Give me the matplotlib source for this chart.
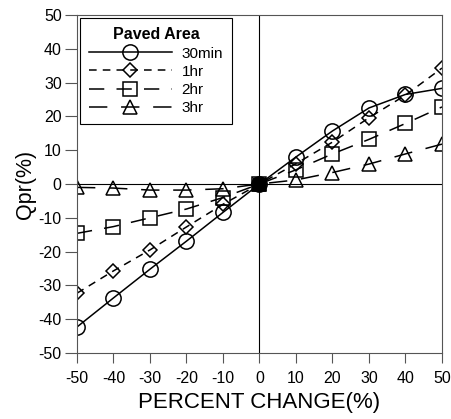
import numpy as np
import matplotlib

matplotlib.use("Agg")
import matplotlib.pyplot as plt

plt.rcParams["font.family"] = ["Liberation Sans", "DejaVu Sans"]
plt.rcParams["axes.unicode_minus"] = False

# ---- data ----
pct = [-50, -40, -30, -20, -10, 0, 10, 20, 30, 40, 50]
q_30min = [-42.3, -33.7, -25.2, -16.9, -8.4, 0, 8.0, 15.7, 22.5, 26.5, 28.3]
q_1hr = [-32.3, -25.7, -19.5, -12.7, -6.0, 0, 6.0, 12.4, 19.6, 26.3, 34.3]
q_2hr = [-14.6, -12.6, -10.0, -7.4, -4.0, 0, 4.2, 8.9, 13.2, 17.9, 22.8]
q_3hr = [-1.0, -1.2, -1.8, -1.8, -1.4, 0, 1.2, 3.4, 5.9, 8.9, 11.8]
labels = ["30min", "1hr", "2hr", "3hr"]

fig = plt.figure(figsize=(4.52, 4.19), dpi=100)
ax = fig.add_axes([77 / 452, 1 - 353 / 419, 365 / 452, 338 / 419])

styles = [
    dict(marker="o", ms=11, ls="-"),
    dict(marker="D", ms=7.5, ls=(0, (5, 4))),
    dict(marker="s", ms=10, ls=(0, (10, 8))),
    dict(marker="^", ms=10, ls=(0, (12, 9))),
]
for y, lab, st in zip([q_30min, q_1hr, q_2hr, q_3hr], labels, styles):
    ax.plot(pct, y, color="black", lw=1.1, mfc="none", mec="black", mew=1.1,
            label=lab, **st)

# all series meet at the origin -> solid black blob
i0 = pct.index(0)
ax.plot(pct[i0], q_30min[i0], marker="s", ms=9, color="black", zorder=5)

ax.axhline(0, color="black", lw=0.8, zorder=1)
ax.axvline(0, color="black", lw=0.8, zorder=1)

ax.set_xlim(-50, 50)
ax.set_ylim(-50, 50)
ax.set_xticks(range(-50, 51, 10))
ax.set_yticks(range(-50, 51, 10))
ax.tick_params(axis="x", direction="out", length=7, labelsize=11.5, pad=6,
               color="#555555")
ax.tick_params(axis="y", direction="out", length=9, labelsize=11.5, pad=2,
               color="#555555")
for s in ax.spines.values():
    s.set_color("#555555")
    s.set_linewidth(0.8)

ax.set_xlabel("PERCENT CHANGE(%)", fontsize=16, labelpad=4)
ax.set_ylabel("Qpr(%)", fontsize=15.5, labelpad=2)

leg = ax.legend(title="Paved Area", loc="upper left", frameon=True, fancybox=False,
                edgecolor="black", framealpha=1, fontsize=11, handlelength=5.4,
                borderaxespad=0.2, labelspacing=0.28, handletextpad=0.65,
                borderpad=0.6,
                title_fontproperties={"weight": "bold", "size": 11.5})
leg.get_frame().set_linewidth(0.8)

plt.savefig("out.png", dpi=100)
